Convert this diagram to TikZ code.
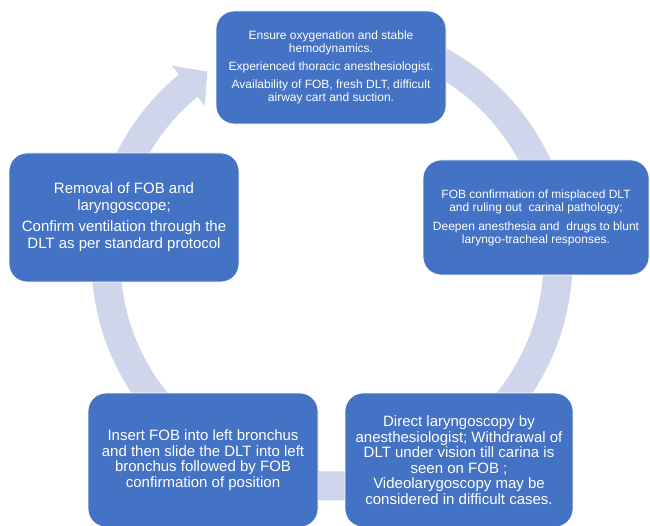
\documentclass[tikz,border=0pt]{standalone}
\usepackage{fontspec}
\setmainfont{Liberation Sans}
\usepackage{xcolor}
\usetikzlibrary{positioning,calc}
\definecolor{boxblue}{HTML}{4472C4}
\definecolor{ringblue}{HTML}{CFD5EA}

\begin{document}
\begin{tikzpicture}[
    x=1pt, y=1pt,
    stepbox/.style={rectangle, rounded corners=18pt, draw=white, line width=0.8pt, fill=boxblue, text=white, align=center, inner sep=0pt},
    small/.style={font=\fontsize{12}{13}\selectfont},
    big/.style={font=\fontsize{15}{15.5}\selectfont},
    ring/.style={draw=ringblue, line width=29pt}
]
\useasboundingbox (0,0) rectangle (650,525);

% cycle ring behind the boxes
\coordinate (hub) at (332,265);
\draw[ring] ($(hub)+(129:226)$) arc[start angle=129, end angle=470, radius=226];
\fill[ringblue] ($(hub)+(129.5:252)$) -- ($(hub)+(123.5:226)$) -- ($(hub)+(129.5:200)$) -- cycle;

\node[stepbox, small, minimum width=230, minimum height=113] (prep) at (331,457.5)
    {Ensure oxygenation and stable\\ hemodynamics.\\[5pt]
     Experienced thoracic anesthesiologist.\\[5pt]
     Availability of FOB, fresh DLT, difficult\\ airway cart and suction.};
\node[stepbox, small, minimum width=226, minimum height=115] (confirm) at (536,307.5)
    {FOB confirmation of misplaced DLT\\ and ruling out\ \ carinal pathology;\\[6pt]
     Deepen anesthesia and\ \ drugs to blunt\\ laryngo-tracheal responses.};
\node[stepbox, big, font=\fontsize{15}{17}\selectfont, minimum width=230, minimum height=129] (removal) at (124,307.5)
    {Removal of FOB and\\ laryngoscope;\\[4pt]
     Confirm ventilation through the\\ DLT as per standard protocol};
\node[stepbox, big, minimum width=230, minimum height=134] (insert) at (203,65)
    {Insert FOB into left bronchus\\ and then slide the DLT into left\\
     bronchus followed by FOB\\ confirmation of position};
\node[stepbox, big, minimum width=228, minimum height=134] (withdraw) at (459,65)
    {Direct laryngoscopy by\\ anesthesiologist; Withdrawal of\\ DLT under vision till carina is\\
     seen on FOB ;\\ Videolarygoscopy may be\\ considered in difficult cases.};

\end{tikzpicture}
\end{document}
